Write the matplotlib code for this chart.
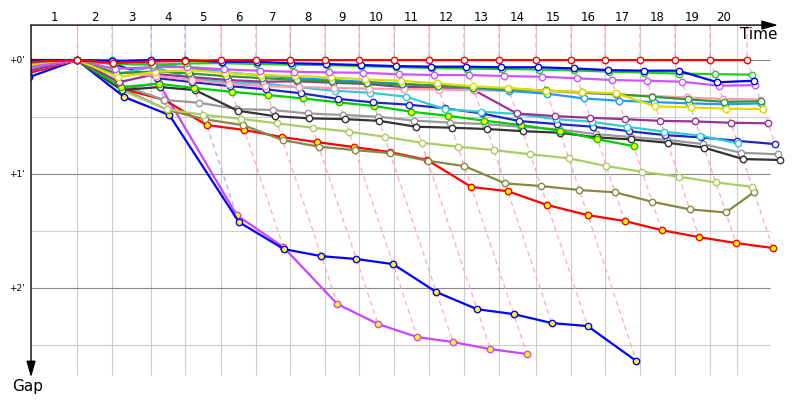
import matplotlib
matplotlib.use('Agg')
import matplotlib.pyplot as plt
from matplotlib.patches import Rectangle

# reference (fastest) time at each lap, seconds; index 0 is the lap before the start line
ref_time = [-85, 0, 55.3, 116.8, 170.5, 227.4, 282.6, 336.3, 391.6, 445.3, 500.5,
            555.8, 611.1, 666.3, 724.8, 780.0, 833.7, 889.0, 944.2, 999.5, 1057.9]
lap_lines = ref_time[1:20] + [1042]
lap_labels = [str(i) for i in range(1, 21)]
gap_ticks = [0, 60, 120]
gap_tick_labels = ["+0'", "+1'", "+2'"]
gap_minor = [30, 90, 150]

# gap to the reference time, seconds, one value per lap
gap_red = [1, 0, 1.5, 0.8, 0.5, 0, 0, 0, 0, 0, 0, 0, 0, 0, 0, 0, 0, 0, 0, 0, 0]
gap_blue = [0, 0, 0.5, 0, 0, 0.9, 0.9, 1.7, 2.1, 2.6, 3.2, 3.5, 3.5, 3.8, 3.8, 4.4,
            5.3, 5.6, 5.6, 11.7, 10.9]
gap_green = [0, 0, 2, 2.5, 1.8, 1.6, 2.1, 2.4, 2.6, 3.2, 3.7, 4.2, 4.5, 4.7, 5.0, 5.5,
             6.1, 6.6, 7.1, 7.4, 7.7]
gap_violet = [4, 0, 4.7, 3.7, 3.7, 4.9, 5.6, 6.2, 6.5, 6.7, 7.5, 7.9, 7.9, 8.4, 8.8,
              9.6, 10.5, 10.9, 11.4, 13.5, 13.2]
gap_yellow = [3, 0, 8.9, 6.3, 5.3, 6.7, 7.9, 8.4, 9.1, 10.2, 10.9, 12.3, 13.8, 14.7,
              16.2, 16.8, 17.4, 24.4, 24.9, 25.6, 25.8]
gap_darkgreen = [1, 0, 7, 6, 7, 8.5, 9.5, 10.5, 11.2, 12, 12.8, 13.5, 14.5, 15.3, 16,
                 17, 18, 19.3, 20.7, 22, 21.7]
gap_lightblue = [2, 0, 0, 2, 4, 6.5, 8, 9.5, 10.5, 11.5, 12.5, 13.5, 14.8, 16.3, 17.7,
                 20.2, 21.4, 22.1, 22.8, 23.3, 22.8]
gap_pink = [4, 0, 6.3, 8.4, 10.5, 12.6, 13.7, 14.2, 14.7, 15, 15.3, 15.5, 15.8, 16.1,
            16.3, 17.4, 18.2, 18.9, 19.7, 20.5, 20.8]
gap_purple = [6, 0, 11.6, 7.4, 8.9, 10.5, 11.4, 11.2, 11.9, 12.6, 14.2, 14.4, 15.9,
              28.1, 29.5, 30.4, 31.1, 32.0, 32.3, 33.0, 33.3]
gap_cyan = [3, 0, 7.5, 3.5, 9.8, 11.8, 12.3, 14.4, 16.2, 17.2, 19.3, 25.9, 27.2, 28.4,
            31.1, 32.5, 35.1, 37.7, 39.8, 43.8]
gap_navy = [2, 0, 2, 9.5, 11.6, 13.7, 15.4, 17.5, 20.4, 22.3, 23.5, 25.4, 28.1, 32.1,
            33.7, 35.1, 37.4, 39.5, 40.7, 42.5, 44.2]
gap_green2 = [3, 0, 14.2, 12.5, 14.7, 16.7, 18.4, 20.2, 22.3, 24.2, 27.2, 29.3, 31.9,
              34.2, 37.2, 41.7, 45.3]
gap_black = [4, 0, 15.8, 14.2, 15.8, 26.7, 29.5, 30.7, 31.1, 32, 35.1, 35.6, 36.3,
             37.4, 38.3, 40.7, 41.8, 43.5, 46.1, 52.1, 52.6]
gap_gray = [5, 0, 13, 21, 22.5, 25.8, 26.3, 28.1, 28.9, 29.8, 31.9, 32.9, 33.7, 35.1,
            36.5, 39, 40.5, 42, 44.2, 48.8, 49.6]
gap_lightgreen = [6, 0, 16, 26, 28.8, 30.9, 33.3, 35.6, 37.7, 40.4, 43.5, 45.6, 47.4,
                  49.6, 51.7, 55.8, 58.8, 61.4, 64.4, 66.7]
gap_olive = [5, 0, 15, 26.3, 31.2, 34.2, 42.1, 45.6, 47.4, 49, 53, 55.8, 64.9, 66.3,
             68.4, 69.6, 74.6, 78.6, 80.2, 69.5]
gap_red2 = [7, 0, 15, 21, 34.2, 36.8, 40.5, 43.2, 45.8, 48.4, 52.6, 66.8, 69, 76.3,
            81.6, 84.7, 89.5, 93.2, 96.3, 98.9]
gap_blue2 = [9, 0, 19.5, 28.9, 85.3, 99.5, 103.2, 104.7, 107.4, 122.1, 131.1, 133.7,
             138.4, 140, 158.4]
gap_magenta2 = [7, 0, 15.3, 12.1, 81.6, 98.4, 128.4, 138.9, 145.8, 148.4, 152.1, 154.7]

drivers = [
    (gap_red, '#ff0000', 'white'),
    (gap_blue, '#0000ff', 'white'),
    (gap_green, '#22cc22', 'white'),
    (gap_violet, '#cc55ff', 'white'),
    (gap_yellow, '#dddd00', 'white'),
    (gap_darkgreen, '#339933', 'white'),
    (gap_lightblue, '#1e9bff', 'white'),
    (gap_pink, '#ff99b0', 'white'),
    (gap_purple, '#993399', 'white'),
    (gap_cyan, '#33cccc', 'white'),
    (gap_navy, '#2222cc', 'white'),
    (gap_green2, '#00cc00', '#ffff00'),
    (gap_black, '#333333', 'white'),
    (gap_gray, '#999999', 'white'),
    (gap_lightgreen, '#aacc66', 'white'),
    (gap_olive, '#888844', 'white'),
    (gap_red2, '#ff0000', '#ffff00'),
    (gap_blue2, '#0000ff', '#ffff00'),
    (gap_magenta2, '#cc44ff', '#ffff00'),
]
dash_colors = ['#ffaaaa', '#aaddaa', '#aaaaff', '#aaaaff'] + ['#ffaaaa'] * 16

# plot frame in data units (x: seconds, y: gap seconds)
x0, x1, xarrow = -72.6, 1094, 1107
y0, ygrid, yarrow = -18.4, 165.8, 167

fig = plt.figure(figsize=(8, 4), dpi=100)
ax = fig.add_axes([0, 0, 1, 1])
ax.set_xlim(-121.6, 1141.6)
ax.set_ylim(178.9, -31.6)
ax.axis('off')

clip = Rectangle((x0, y0), 1300, 200, transform=ax.transData)

ax.vlines(lap_lines, y0, ygrid, color='#cccccc', lw=0.8, zorder=1)
ax.hlines(gap_minor, x0, x1, color='#cccccc', lw=0.8, zorder=1)
ax.hlines(gap_ticks, x0, x1, color='#888888', lw=0.8, zorder=1)

# same-lap lines
for k in range(20):
    gaps = [d[0][k + 1] for d in drivers if len(d[0]) > k + 1]
    gmax = max(gaps)
    t = ref_time[k + 1]
    ax.plot([t, t, t + gmax], [y0, 0, gmax], color=dash_colors[k], lw=0.9,
            ls=(0, (4, 3)), zorder=2)

for gaps, color, fill in drivers[::-1]:
    xs = [ref_time[i] + g for i, g in enumerate(gaps)]
    line, = ax.plot(xs, gaps, color=color, lw=1.6, marker='o', ms=4.6,
                    mfc=fill, mec=color, mew=1.0, zorder=3)
    line.set_clip_path(clip)

arrow = dict(arrowstyle='-|>,head_length=0.7,head_width=0.2', color='black',
             lw=1.0, mutation_scale=14, shrinkA=0, shrinkB=0)
ax.annotate('', xy=(xarrow, y0), xytext=(x0, y0), arrowprops=arrow, zorder=5)
ax.annotate('', xy=(x0, yarrow), xytext=(x0, y0), arrowprops=arrow, zorder=5)

bounds = [x0] + lap_lines
for i, lab in enumerate(lap_labels):
    ax.text((bounds[i] + bounds[i + 1]) / 2, -22.6, lab, ha='center', va='center',
            fontsize=8.5)
for g, lab in zip(gap_ticks, gap_tick_labels):
    ax.text(-82, g, lab, ha='right', va='center', fontsize=6.5)
ax.text(1105.5, -13.2, 'Time', ha='right', va='center', fontsize=11)
ax.text(-102.6, 171.6, 'Gap', ha='left', va='center', fontsize=11)

fig.savefig('out.png', dpi=100)
